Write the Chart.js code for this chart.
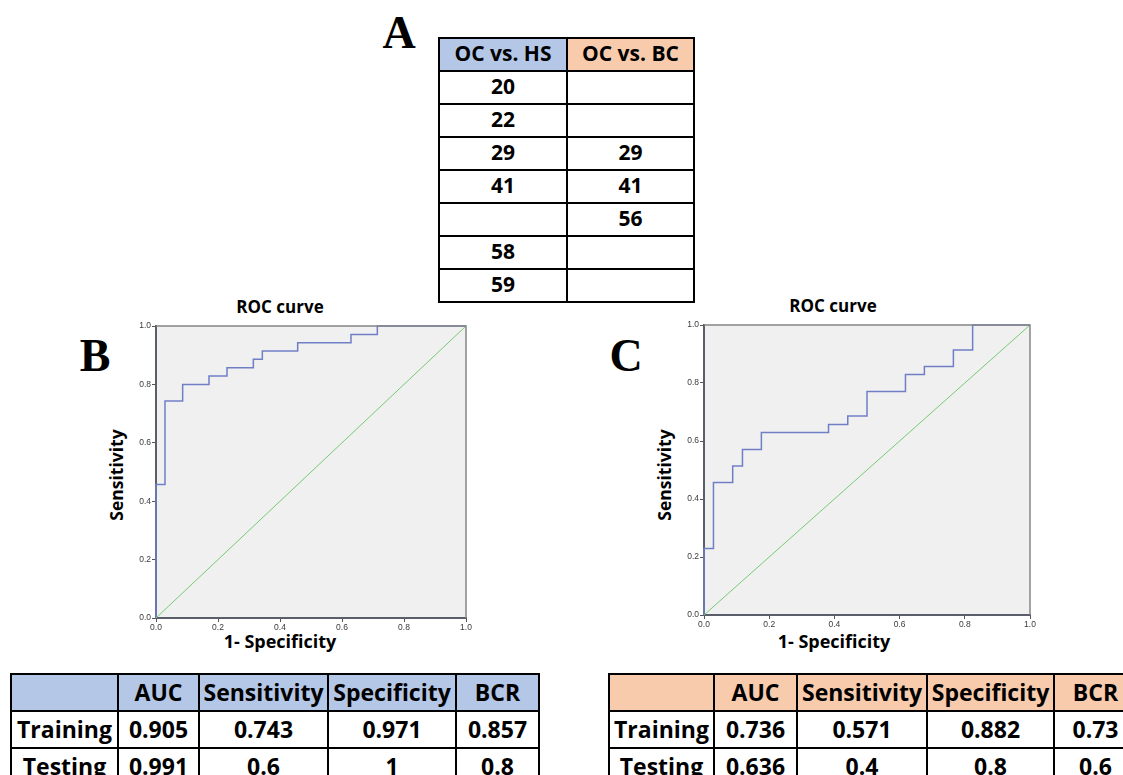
<!DOCTYPE html>
<html>
<head>
<meta charset="utf-8">
<script src="https://cdn.jsdelivr.net/npm/chart.js@4.4.0/dist/chart.umd.min.js"></script>
<style>
  html, body { margin:0; padding:0; background:#fff; }
  body { width:1123px; height:775px; overflow:hidden; position:relative; font-family:"Open Sans", sans-serif; }
  .letter { position:absolute; font-family:"Liberation Serif", "DejaVu Serif", serif; font-weight:bold; font-size:46px; line-height:1; transform:translate(-50%,-50%); color:#000; }
  .lbl { position:absolute; font-family:"Open Sans", sans-serif; font-weight:bold; line-height:1; transform:translate(-50%,-50%); color:#000; white-space:nowrap; }
  .rot { transform:translate(-50%,-50%) rotate(-90deg); }
  table { border-collapse:collapse; table-layout:fixed; position:absolute; }
  td { border:2px solid #000; padding:0; text-align:center; font-weight:bold; color:#000; overflow:hidden; white-space:nowrap; }
  #tA td { height:28px; padding-bottom:3px; font-size:21px; }
  .mt td { height:34px; padding-bottom:1px; font-size:23px; }
  .hs { background:#b4c7e7; }
  .bc { background:#f8cbad; }
  canvas { position:absolute; }
</style>
</head>
<body>

<div class="letter" style="left:399px; top:33px;">A</div>
<div class="letter" style="left:95px; top:356px;">B</div>
<div class="letter" style="left:626px; top:356px;">C</div>

<table id="tA" style="left:438px; top:37px; width:255px;">
  <colgroup><col style="width:128px"><col style="width:127px"></colgroup>
  <tbody id="tAbody"></tbody>
</table>

<div class="lbl" style="left:280px; top:306px; font-size:17px;">ROC curve</div>
<div class="lbl" style="left:833px; top:305px; font-size:17px;">ROC curve</div>
<div class="lbl rot" style="left:117px; top:475px; font-size:17.5px;">Sensitivity</div>
<div class="lbl rot" style="left:665px; top:475px; font-size:17.5px;">Sensitivity</div>
<div class="lbl" style="left:280px; top:641px; font-size:18px;">1- Specificity</div>
<div class="lbl" style="left:834px; top:641px; font-size:18px;">1- Specificity</div>

<canvas id="chartB" width="380" height="320" style="left:100px; top:316px;"></canvas>
<canvas id="chartC" width="396" height="318" style="left:648px; top:315px;"></canvas>

<table id="tB" class="mt" style="left:10px; top:673px; width:528px;">
  <colgroup><col style="width:107px"><col style="width:81px"><col style="width:129px"><col style="width:128px"><col style="width:83px"></colgroup>
  <tbody id="tBbody"></tbody>
</table>
<table id="tC" class="mt" style="left:608px; top:673px; width:528px;">
  <colgroup><col style="width:105px"><col style="width:83px"><col style="width:130px"><col style="width:127px"><col style="width:83px"></colgroup>
  <tbody id="tCbody"></tbody>
</table>

<script>
// ---- Panel A data ----
const headA = ['OC vs. HS', 'OC vs. BC'];
const colHS = ['20', '22', '29', '41', '', '58', '59'];
const colBC = ['', '', '29', '41', '56', '', ''];

// ---- Metric tables ----
const metricHeaders = ['', 'AUC', 'Sensitivity', 'Specificity', 'BCR'];
const rowNames = ['Training', 'Testing'];
const hsTraining = ['0.905', '0.743', '0.971', '0.857'];
const hsTesting  = ['0.991', '0.6', '1', '0.8'];
const bcTraining = ['0.736', '0.571', '0.882', '0.73'];
const bcTesting  = ['0.636', '0.4', '0.8', '0.6'];

// ---- ROC curves (1-specificity, sensitivity) ----
const fprB = [0, 0, 0.029, 0.086, 0.171, 0.229, 0.314, 0.343, 0.457, 0.629, 0.714, 1.0];
const tprB = [0, 0.457, 0.743, 0.800, 0.829, 0.857, 0.886, 0.914, 0.943, 0.971, 1.0, 1.0];
const fprC = [0, 0, 0.029, 0.088, 0.118, 0.176, 0.382, 0.441, 0.500, 0.618, 0.676, 0.765, 0.824, 1.0];
const tprC = [0, 0.229, 0.457, 0.514, 0.571, 0.629, 0.657, 0.686, 0.771, 0.829, 0.857, 0.914, 1.0, 1.0];
const refX = [0, 1];
const refY = [0, 1];
const tickValues = [0, 0.2, 0.4, 0.6, 0.8, 1.0];

// build table A
(function(){
  const tb = document.getElementById('tAbody');
  let tr = document.createElement('tr');
  tr.innerHTML = '<td class="hs">' + headA[0] + '</td><td class="bc">' + headA[1] + '</td>';
  tb.appendChild(tr);
  for (let i = 0; i < colHS.length; i++) {
    tr = document.createElement('tr');
    tr.innerHTML = '<td>' + colHS[i] + '</td><td>' + colBC[i] + '</td>';
    tb.appendChild(tr);
  }
})();

function buildMetric(id, cls, train, test) {
  const tb = document.getElementById(id);
  let tr = document.createElement('tr');
  tr.innerHTML = metricHeaders.map(h => '<td class="' + cls + '">' + h + '</td>').join('');
  tb.appendChild(tr);
  [train, test].forEach((vals, r) => {
    const row = document.createElement('tr');
    row.innerHTML = '<td>' + rowNames[r] + '</td>' + vals.map(v => '<td>' + v + '</td>').join('');
    tb.appendChild(row);
  });
}
buildMetric('tBbody', 'hs', hsTraining, hsTesting);
buildMetric('tCbody', 'bc', bcTraining, bcTesting);

const framePlugin = {
  id: 'frame',
  beforeDraw(chart) {
    const a = chart.chartArea, ctx = chart.ctx;
    ctx.save();
    ctx.fillStyle = '#f0f0f0';
    ctx.fillRect(a.left, a.top, a.right - a.left, a.bottom - a.top);
    ctx.restore();
  },
  afterDraw(chart) {
    const a = chart.chartArea, ctx = chart.ctx;
    ctx.save();
    ctx.strokeStyle = '#858585';
    ctx.lineWidth = 1.5;
    ctx.beginPath();
    ctx.moveTo(a.left, a.top);
    ctx.lineTo(a.right, a.top);
    ctx.lineTo(a.right, a.bottom);
    ctx.stroke();
    ctx.restore();
  }
};

function axis(isX) {
  return {
    type: 'linear', min: 0, max: 1,
    afterBuildTicks: s => { s.ticks = tickValues.map(v => ({ value: v })); },
    afterFit: s => { if (isX) s.height = 18; else s.width = 56; },
    grid: { display: true, drawOnChartArea: false, drawTicks: true, tickLength: 4, color: '#555', lineWidth: 1 },
    border: { display: true, color: '#5a5d6a', width: 2 },
    ticks: { padding: 1, color: '#3a3a3a', font: { family: 'Liberation Sans', size: 8.5 }, callback: v => Number(v).toFixed(1), maxRotation: 0, autoSkip: false }
  };
}

function makeChart(id, fpr, tpr) {
  new Chart(document.getElementById(id), {
    type: 'scatter',
    data: {
      datasets: [
        { data: refX.map((x, i) => ({ x: x, y: refY[i] })), showLine: true, borderColor: '#74cc74', borderWidth: 1, pointRadius: 0, clip: false },
        { data: fpr.map((x, i) => ({ x: x, y: tpr[i] })), showLine: true, stepped: 'before', borderColor: '#6f7fc6', borderWidth: 1.5, pointRadius: 0, clip: false }
      ]
    },
    options: {
      responsive: false, animation: false, devicePixelRatio: 1,
      layout: { padding: { top: 10, right: 14, left: 0, bottom: 0 } },
      plugins: { legend: { display: false }, tooltip: { enabled: false }, title: { display: false } },
      scales: { x: axis(true), y: axis(false) }
    },
    plugins: [framePlugin]
  });
}
makeChart('chartB', fprB, tprB);
makeChart('chartC', fprC, tprC);
</script>
</body>
</html>
